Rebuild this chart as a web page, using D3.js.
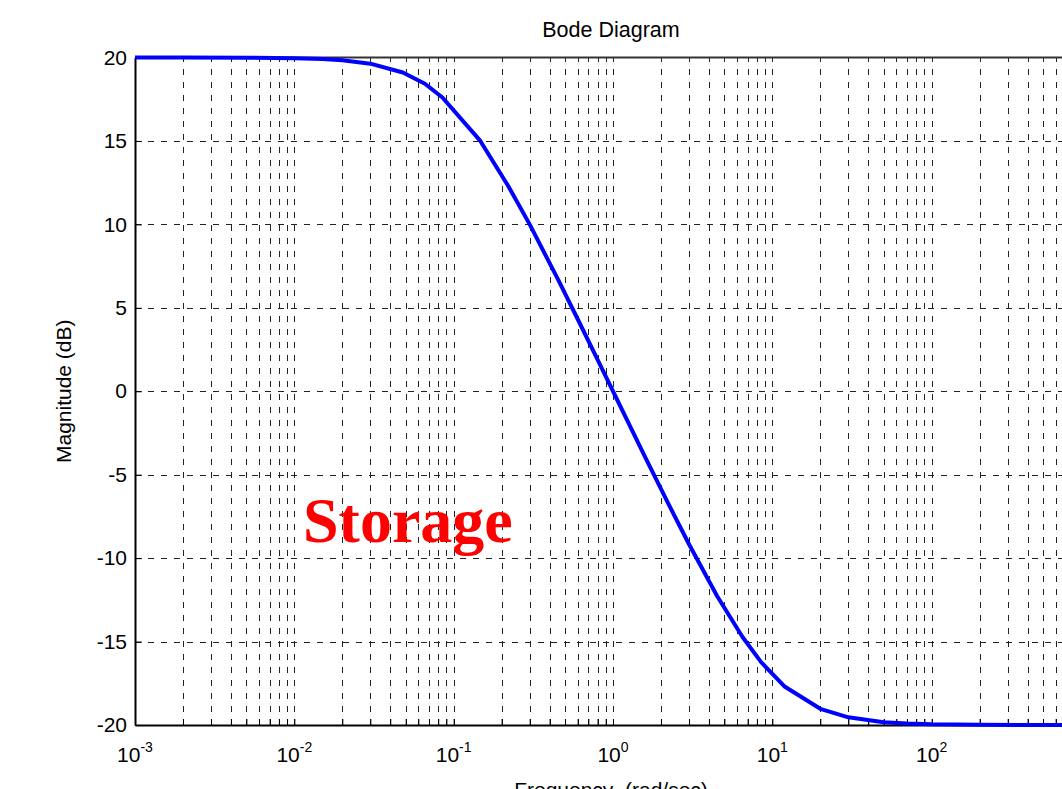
<!DOCTYPE html>
<html>
<head>
<meta charset="utf-8">
<script src="https://cdn.jsdelivr.net/npm/d3@7"></script>
<style>
  html, body { margin: 0; padding: 0; background: #fff; overflow: hidden; }
  text { font-family: "Liberation Sans", Arial, Helvetica, sans-serif; fill: #000; }
</style>
</head>
<body>
<div id="chart"></div>
<script>
// values
var freq = [0.001, 0.002, 0.005, 0.01, 0.015, 0.02, 0.03, 0.048, 0.066, 0.085, 0.147,
            0.22, 0.3, 0.45, 0.6, 0.8, 1.0, 1.25, 1.6, 2.2, 3.0, 4.5, 6.5, 8.5, 12,
            20, 30, 50, 70, 100, 200, 500, 1000];
var magDb = [20.0, 20.0, 19.99, 19.96, 19.91, 19.83, 19.63, 19.1, 18.43, 17.6, 15.0,
             12.3, 10.0, 6.73, 4.33, 1.9, 0.0, -1.9, -3.99, -6.65, -9.17, -12.27, -14.73, -16.23, -17.71,
             -19.03, -19.54, -19.83, -19.91, -19.96, -19.99, -20.0, -20.0];
var yTicks = [-20, -15, -10, -5, 0, 5, 10, 15, 20];
var xMajor = [1e-3, 1e-2, 1e-1, 1, 10, 100];
var xExp = ["-3", "-2", "-1", "0", "1", "2"];

var W = 1062, H = 789;
var pLeft = 135, pRight = 1091, pTop = 57.5, pBottom = 725;

var svg = d3.select("#chart").append("svg")
    .attr("width", W)
    .attr("height", H);

var x = d3.scaleLog().domain([1e-3, 1e3]).range([pLeft, pRight]);
var y = d3.scaleLinear().domain([-20, 20]).range([pBottom, pTop]);

// grid
var grid = svg.append("g")
    .attr("stroke", "#222")
    .attr("stroke-width", 1)
    .attr("stroke-dasharray", "6,7")
    .attr("shape-rendering", "crispEdges");

grid.selectAll("line.vg")
    .data(x.ticks().filter(function (d) { return d > 1e-3 && d < 1e3; }))
    .enter().append("line")
    .attr("class", "vg")
    .attr("x1", function (d) { return Math.round(x(d)) + 0.5; })
    .attr("x2", function (d) { return Math.round(x(d)) + 0.5; })
    .attr("y1", pBottom)
    .attr("y2", pTop);

grid.selectAll("line.hg")
    .data(yTicks.filter(function (d) { return d > -20 && d < 20; }))
    .enter().append("line")
    .attr("class", "hg")
    .attr("x1", pLeft)
    .attr("x2", pRight)
    .attr("y1", function (d) { return Math.round(y(d)) + 0.5; })
    .attr("y2", function (d) { return Math.round(y(d)) + 0.5; });

// axes (ticks pointing inward like matlab)
var yAxis = svg.append("g")
    .attr("transform", "translate(" + pLeft + ",0)")
    .call(d3.axisLeft(y).tickValues(yTicks).tickSizeInner(-7).tickSizeOuter(0).tickPadding(8)
        .tickFormat(function (d) { return String(d); }));
yAxis.select(".domain").attr("stroke-width", 2);
yAxis.selectAll("text").attr("font-size", 21);

var xAxis = svg.append("g")
    .attr("transform", "translate(0," + pBottom + ")")
    .call(d3.axisBottom(x).tickSizeInner(-6).tickSizeOuter(0).tickFormat(""));
xAxis.select(".domain").attr("stroke-width", 2);

// top border
svg.append("line")
    .attr("x1", pLeft).attr("x2", pRight)
    .attr("y1", pTop).attr("y2", pTop)
    .attr("stroke", "#333")
    .attr("stroke-width", 2);

// x labels 10^n
var xl = svg.append("g").selectAll("text")
    .data(xMajor)
    .enter().append("text")
    .attr("x", function (d) { return x(d); })
    .attr("y", 762)
    .attr("text-anchor", "middle")
    .attr("font-size", 21);
xl.append("tspan").text("10");
xl.append("tspan")
    .attr("font-size", 14)
    .attr("dy", -10)
    .text(function (d, i) { return xExp[i]; });

// curve
var line = d3.line()
    .x(function (d) { return x(d[0]); })
    .y(function (d) { return y(d[1]); });

svg.append("path")
    .datum(d3.zip(freq, magDb))
    .attr("d", line)
    .attr("fill", "none")
    .attr("stroke", "#0000ff")
    .attr("stroke-width", 4)
    .attr("stroke-linejoin", "round");

// titles
svg.append("text")
    .attr("x", 611).attr("y", 37)
    .attr("text-anchor", "middle")
    .attr("font-size", 21.5)
    .text("Bode Diagram");

svg.append("text")
    .attr("transform", "translate(71," + ((pTop + pBottom) / 2) + ") rotate(-90)")
    .attr("text-anchor", "middle")
    .attr("font-size", 21)
    .text("Magnitude (dB)");

svg.append("text")
    .attr("x", 611).attr("y", 797)
    .attr("text-anchor", "middle")
    .attr("font-size", 21)
    .attr("xml:space", "preserve")
    .style("white-space", "pre")
    .text("Frequency  (rad/sec)");

// watermark
svg.append("text")
    .attr("x", 303).attr("y", 542)
    .attr("font-size", 64)
    .attr("font-weight", "bold")
    .style("font-family", "'Liberation Serif', 'Times New Roman', serif")
    .style("fill", "#ff0000")
    .text("Storage");
</script>
</body>
</html>
